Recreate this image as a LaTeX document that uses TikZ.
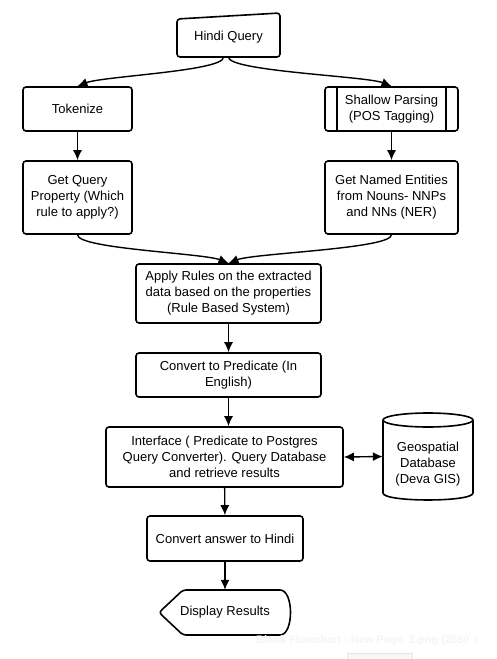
\documentclass[tikz,border=0pt]{standalone}
\usepackage{fontspec}
\setmainfont{Liberation Sans}
\usetikzlibrary{arrows.meta}
\begin{document}
\begin{tikzpicture}[x=1pt,y=-1pt,
  every node/.style={font=\fontsize{13}{16}\selectfont, align=center, inner sep=0pt},
  box/.style={draw, line width=1.6pt, rounded corners=3pt},
  ghost/.style={draw=none},
  conn/.style={line width=1.4pt, -{Latex[length=10pt,width=9pt]}},
  dconn/.style={line width=1.4pt, {Latex[length=10pt,width=9pt]}-{Latex[length=10pt,width=9pt]}},
  outl/.style={draw, line width=1.6pt, rounded corners=3pt, line join=round}]
\useasboundingbox (0,0) rectangle (497,659);
\fill[white] (0,0) rectangle (497,659);

% Hindi Query (manual input shape)
\draw[outl] (177,19) -- (280,13) -- (280,57) -- (177,57) -- cycle;
\node[ghost, minimum width=103pt, minimum height=44pt] (hq) at (228.5,35) {};
\node at (228.5,37) {Hindi Query};

% Tokenize
\node[box, minimum width=109pt, minimum height=44pt] (tok) at (77.5,109) {Tokenize};
% Shallow parsing (predefined process)
\node[box, minimum width=133pt, minimum height=44pt] (sp) at (391.5,109) {Shallow Parsing\\(POS Tagging)};
\draw[line width=1.6pt] ([xshift=13pt]sp.north west) -- ([xshift=13pt]sp.south west);
\draw[line width=1.6pt] ([xshift=-13pt]sp.north east) -- ([xshift=-13pt]sp.south east);

% Second row
\node[box, minimum width=109pt, minimum height=73pt] (gq) at (77.5,197.5) {Get Query\\Property (Which\\rule to apply?)};
\node[box, minimum width=133pt, minimum height=73pt] (ne) at (391.5,197.5) {Get Named Entities\\from Nouns- NNPs\\and NNs (NER)};

% Apply rules
\node[box, minimum width=185pt, minimum height=59pt] (ar) at (228.5,293.5) {Apply Rules on the extracted\\data based on the properties\\(Rule Based System)};
% Convert to predicate
\node[box, minimum width=185pt, minimum height=44pt] (cp) at (228.5,375) {Convert to Predicate (In\\English)};
% Interface
\node[box, minimum width=237pt, minimum height=60pt] (if) at (224.5,457) {Interface ( Predicate to Postgres\\Query Converter). Query Database\\and retrieve results};

% Cylinder database
\draw[line width=1.6pt] (383,420) -- (383,493) .. controls (383,502.3) and (473,502.3) .. (473,493) -- (473,420);
\draw[line width=1.6pt] (428,420) ellipse [x radius=45pt, y radius=7pt];
\node[ghost, minimum width=90pt, minimum height=87pt] (db) at (428,456.5) {};
\node at (428,464) {Geospatial\\Database\\(Deva GIS)};

% Convert answer
\node[box, minimum width=156pt, minimum height=45pt] (ca) at (225,538.5) {Convert answer to Hindi};

% Display results
\draw[outl] (183,590) -- (277,590) .. controls (294,590) and (294,635) .. (277,635) -- (183,635) -- (159,612.5) -- cycle;
\node[ghost, minimum width=133pt, minimum height=45pt] (dr) at (225,612.5) {};
\node at (225,612.5) {Display Results};

% Connectors
\draw[conn] ([xshift=-5pt]hq.south) .. controls ([xshift=-5pt,yshift=-14pt]hq.south) and ([xshift=25pt,yshift=10pt]tok.north) .. (tok.north);
\draw[conn] (hq.south) .. controls ([yshift=-14pt]hq.south) and ([xshift=-25pt,yshift=10pt]sp.north) .. (sp.north);
\draw[conn] (tok) -- (gq);
\draw[conn] (sp) -- (ne);
\draw[conn] (gq.south) .. controls ([yshift=-14pt]gq.south) and ([xshift=-25pt,yshift=10pt]ar.north) .. (ar.north);
\draw[conn] (ne.south) .. controls ([yshift=-14pt]ne.south) and ([xshift=25pt,yshift=10pt]ar.north) .. (ar.north);
\draw[conn] (ar) -- (cp);
\draw[conn] (cp.south) -- (cp.south |- if.north);
\draw[dconn] (if.east) -- (db.west);
\draw[conn] (if) -- (ca);
\draw[conn] (ca) -- (dr);

% faint screenshot residue
\node[anchor=base west, font=\bfseries\fontsize{11}{13}\selectfont, text=black!4] (wm) at (256,643) {Blank Flowchart - New Page\_2.png (2550 x};
\node[draw=black!10, fill=black!3, line width=0.5pt, minimum width=65pt, minimum height=7pt] (ic) at (379.5,656.5) {};
\end{tikzpicture}
\end{document}
